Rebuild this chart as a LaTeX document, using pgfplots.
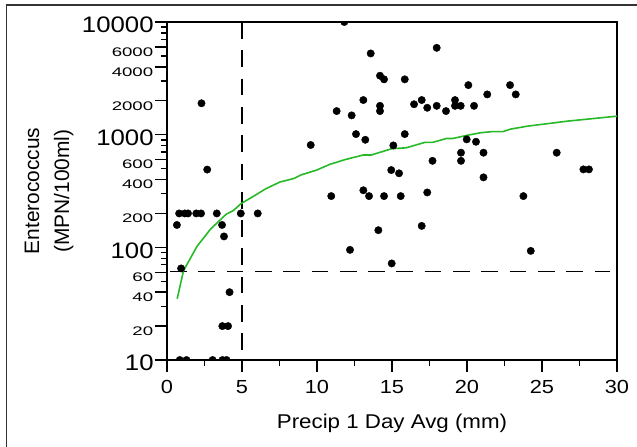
\documentclass[border=0pt]{standalone}
\usepackage{pgfplots}
\pgfplotsset{compat=1.18}
\usepackage{fontspec}
\setmainfont{Liberation Sans}
\definecolor{fitgreen}{RGB}{40,185,40}

\pgfplotstableread{
x y
0.66 158
0.81 200
1.19 200
1.40 200
1.95 200
2.27 200
3.32 200
4.92 200
6.05 200
0.94 65
2.30 1900
2.68 490
3.67 158
3.80 125
4.17 40
3.69 20
4.07 20
0.85 10
1.30 10
3.04 10
3.70 10
3.97 10
9.58 810
10.95 285
11.31 1620
11.82 10000
12.20 95
12.31 1483
12.60 1012
13.09 2029
13.22 901
13.09 321
13.47 285
13.58 5260
14.09 142
14.20 3337
14.47 3098
14.20 1803
14.20 1620
14.47 285
14.95 485
14.98 72
15.09 803
15.47 454
15.58 285
15.85 3098
15.85 1012
16.47 1862
16.98 2029
16.98 155
17.35 1733
17.35 307
17.70 586
17.98 5900
17.98 1803
18.60 1620
19.20 2029
19.20 1803
19.58 1803
19.60 692
19.60 586
19.98 908
20.09 2754
20.47 1803
20.60 865
21.10 692
21.10 418
21.35 2276
22.87 2754
23.25 2276
23.76 285
24.25 93
25.98 692
27.76 492
28.13 492
}\dots

\pgfplotstableread{
x y
0.68 35
1.10 62
2.00 102
2.90 145
3.95 197
4.42 212
4.95 245
5.77 284
6.60 332
7.53 380
8.45 408
8.95 440
9.98 485
10.85 545
11.86 600
13.08 660
13.62 660
14.97 750
15.95 765
17.20 855
17.72 855
18.63 925
19.06 925
19.97 985
20.90 1040
21.70 1065
22.40 1065
22.90 1120
24.03 1190
26.73 1320
30.00 1460
}\fit

\begin{document}
\begin{tikzpicture}
\useasboundingbox (0,0) rectangle (637bp,-447bp);
\clip (0,0) rectangle (637bp,-447bp);
\draw[line width=1.3bp, black!80] (6.5bp,-5bp) rectangle (700bp,-500bp);
\begin{axis}[
  at={(167bp,-360bp)}, anchor=south west,
  scale only axis, width=450bp, height=338bp,
  xmin=0, xmax=30, ymode=log, ymin=10, ymax=10000,
  /pgf/number format/assume math mode=true,
  axis line style={line width=1.6bp},
  tick style={line width=1.4bp, black},
  tick align=outside, xtick pos=bottom, ytick pos=left,
  major tick length=12bp, minor tick length=6bp,
  xtick={0,5,...,30}, minor xtick={2.5,7.5,...,27.5},
  xticklabels={0,5,10,15,20,25,30},
  xticklabel style={font=\fontsize{19}{19}\selectfont, xscale=1.15, inner sep=0pt, yshift=-8bp},
  ytick={10,100,1000,10000}, yticklabels={10,100,1000,10000},
  yticklabel style={font=\fontsize{22.5}{22.5}\selectfont, xscale=1.15, inner sep=1bp, yshift=-3bp},
  extra y ticks={20,40,60,200,400,600,2000,4000,6000},
  extra y tick labels={20,40,60,200,400,600,2000,4000,6000},
  extra y tick style={major tick length=12bp, yticklabel style={font=\fontsize{12.5}{12.5}\selectfont, xscale=1.3, inner sep=1bp, yshift=-2bp}},
  minor ytick={30,50,70,80,90,300,500,700,800,900,3000,5000,7000,8000,9000},
  xlabel={Precip 1 Day Avg (mm)},
  xlabel style={font=\fontsize{20}{20}\selectfont, xscale=1.12, at={(axis description cs:0.5,0)}, anchor=base, yshift=-68bp},
  ylabel={Enterococcus\\(MPN/100ml)},
  ylabel style={font=\fontsize{21}{30}\selectfont, align=center, at={(axis description cs:-0.262,0.5)}, anchor=center, rotate=0},
  clip marker paths=true,
]
\addplot[black, line width=1.5bp, dash pattern=on 16.7bp off 11.6bp] coordinates {(5,10000) (5,12)};
\addplot[black, line width=1.5bp, dash pattern=on 16.7bp off 11.6bp] coordinates {(0.2,61) (29.5,61)};
\addplot[fitgreen, line width=1.6bp] table[x=x,y=y] {\fit};
\addplot[only marks, mark=*, mark size=3.7bp, black] table[x=x,y=y] {\dots};
\end{axis}
\end{tikzpicture}
\end{document}
